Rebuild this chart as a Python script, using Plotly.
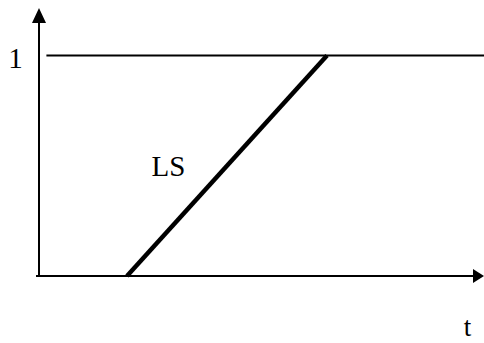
import plotly.graph_objects as go

# values (t in arbitrary units, level in units of "1")
ramp_t = [0.88, 2.88]
ramp_y = [0.0, 1.0]
level_t = [0.074, 4.45]
level_y = [1.0, 1.0]
x_axis_t = [-0.03, 4.40]
y_axis_y = [-0.005, 1.16]
t_end = 4.45
y_end = 1.215
labels = ["1", "LS"]
label_t = [-0.235, 1.295]
label_y = [0.975, 0.485]
axis_label = "t"
axis_label_t = 4.285
axis_label_y = -0.24

black = "black"
fig = go.Figure()

# axes
fig.add_trace(go.Scatter(x=x_axis_t, y=[0, 0], mode="lines",
                         line=dict(color=black, width=2)))
fig.add_trace(go.Scatter(x=[0, 0], y=y_axis_y, mode="lines",
                         line=dict(color=black, width=2)))

# arrow heads
hw_t, hl_y = 0.07, 0.068
fig.add_trace(go.Scatter(x=[-hw_t, hw_t, 0, -hw_t],
                         y=[y_end - hl_y, y_end - hl_y, y_end, y_end - hl_y],
                         fill="toself", fillcolor=black, mode="lines",
                         line=dict(color=black, width=0)))
hl_t, hw_y = 0.11, 0.032
fig.add_trace(go.Scatter(x=[t_end - hl_t, t_end - hl_t, t_end, t_end - hl_t],
                         y=[-hw_y, hw_y, 0, -hw_y],
                         fill="toself", fillcolor=black, mode="lines",
                         line=dict(color=black, width=0)))

# level 1 and ramp
fig.add_trace(go.Scatter(x=level_t, y=level_y, mode="lines",
                         line=dict(color=black, width=2)))
fig.add_trace(go.Scatter(x=ramp_t, y=ramp_y, mode="lines",
                         line=dict(color=black, width=4.5)))

fig.add_trace(go.Scatter(x=label_t, y=label_y, mode="text", text=labels,
                         textfont=dict(family="Liberation Serif", size=29, color=black)))
fig.add_trace(go.Scatter(x=[axis_label_t], y=[axis_label_y], mode="text", text=[axis_label],
                         textfont=dict(family="Liberation Serif", size=27, color=black)))

fig.update_layout(width=484, height=343, margin=dict(l=0, r=0, t=0, b=0),
                  showlegend=False, plot_bgcolor="white", paper_bgcolor="white",
                  xaxis=dict(range=[-0.39, 4.45], visible=False),
                  yaxis=dict(range=[-0.304, 1.2517], visible=False))
fig.write_html("out.html", config={"displayModeBar": False},
               post_script="document.body.style.margin='0';document.body.style.overflow='hidden';")
